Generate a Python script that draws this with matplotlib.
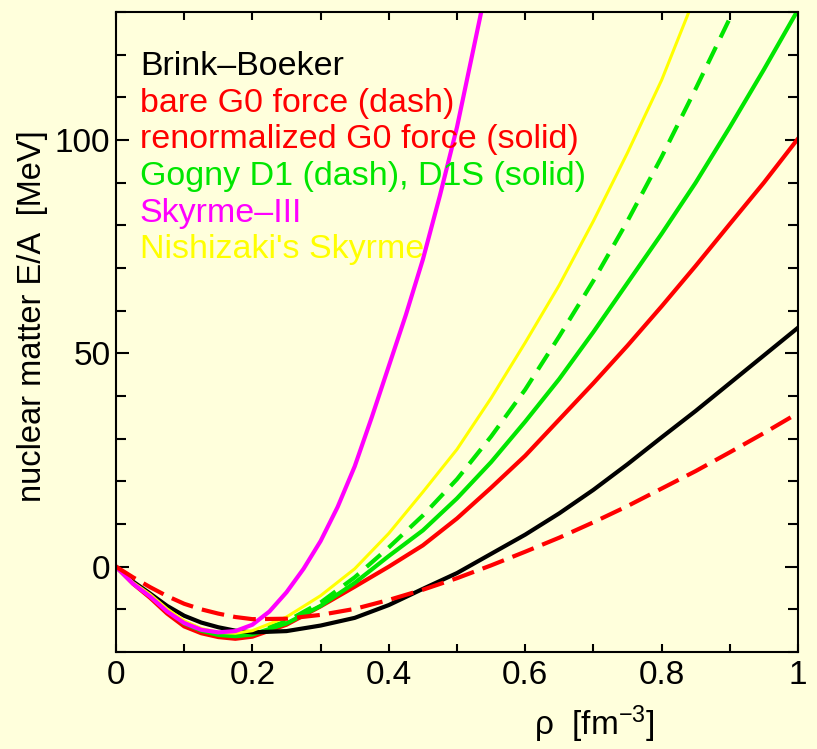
import numpy as np
import matplotlib
matplotlib.use('Agg')
import matplotlib.pyplot as plt
from matplotlib.ticker import MultipleLocator

plt.rcParams['font.family'] = ['Liberation Sans', 'DejaVu Sans']
plt.rcParams['mathtext.fontset'] = 'custom'
plt.rcParams['mathtext.rm'] = 'Liberation Sans'
plt.rcParams['mathtext.it'] = 'Liberation Sans:italic'

# density grid (fm^-3)
rho = [0, 0.025, 0.05, 0.075, 0.1, 0.125, 0.15, 0.175, 0.2, 0.25, 0.3, 0.35, 0.4,
       0.45, 0.5, 0.55, 0.6, 0.65, 0.7, 0.75, 0.8, 0.85, 0.9, 0.95, 1.0]

# E/A in MeV
brink_boeker = [0, -3.5, -6.3, -9.2, -11.5, -13.1, -14.2, -15.0, -15.4, -15.1, -13.8, -12.0, -9.0,
                -5.2, -1.5, 3.0, 7.5, 12.5, 18.0, 24.0, 30.3, 36.5, 43.0, 49.5, 56.0]
g0_bare = [0, -2.5, -4.8, -6.9, -8.7, -10.0, -11.0, -11.8, -12.3, -12.2, -11.3, -9.9, -7.8,
           -5.4, -2.7, 0.3, 3.5, 6.8, 10.4, 14.2, 18.3, 22.4, 26.8, 31.3, 36.0]
g0_renorm = [0, -4.0, -7.3, -11.0, -14.0, -15.6, -16.5, -16.9, -16.4, -13.6, -9.3, -4.7, 0.0,
             5.0, 11.3, 18.5, 26.0, 34.5, 43.0, 51.8, 61.0, 70.5, 80.3, 90.0, 100.3]
gogny_d1 = [0, -3.7, -6.7, -10.1, -13.0, -14.8, -15.8, -16.0, -15.5, -12.8, -8.4, -2.5, 4.5,
            12.0, 20.5, 30.5, 41.5, 54.0, 67.0, 81.0, 96.0, 112.0, 128.5, 145.0, 162.0]
gogny_d1s = [0, -3.8, -6.8, -10.3, -13.3, -15.0, -16.0, -16.3, -15.9, -13.3, -9.2, -3.8, 2.5,
             8.5, 16.0, 24.5, 34.0, 44.0, 55.0, 66.5, 78.0, 90.0, 103.0, 116.5, 130.5]
nishizaki = [0, -3.7, -6.5, -9.9, -12.7, -14.5, -15.4, -15.6, -15.0, -11.8, -6.8, -0.5, 7.8,
             17.5, 27.5, 39.5, 52.5, 66.0, 81.0, 97.0, 114.0, 134.0, 154.0, 175.0, 197.0]

rho_s3 = [0, 0.025, 0.05, 0.075, 0.1, 0.125, 0.15, 0.175, 0.2, 0.225, 0.25, 0.275, 0.3,
          0.325, 0.35, 0.375, 0.4, 0.425, 0.45, 0.475, 0.5, 0.525, 0.55]
skyrme3 = [0, -4.0, -7.0, -10.5, -13.2, -14.8, -15.4, -15.1, -13.6, -10.5, -6.0, -0.5, 6.0,
           14.0, 23.5, 35.0, 47.0, 59.0, 72.0, 87.0, 103.0, 122.0, 141.0]

labels = ['Brink\u2013Boeker', 'bare G0 force (dash)', 'renormalized G0 force (solid)',
          'Gogny D1 (dash), D1S (solid)', 'Skyrme\u2013III', "Nishizaki's Skyrme"]
label_colors = ['black', '#ff0000', '#ff0000', '#00e600', '#ff00ff', '#ffff00']

bg = '#ffffdc'
fig = plt.figure(figsize=(8.17, 7.49), dpi=100, facecolor=bg)
ax = fig.add_axes([0.142, 0.1295, 0.8347, 0.8545], facecolor=bg)

ax.plot(rho, g0_renorm, color='#ff0000', lw=3.0)
ax.plot(rho, gogny_d1s, color='#00e600', lw=3.0)
ax.plot(rho, gogny_d1, color='#00e600', lw=3.0, dashes=(4.5, 2.5))
ax.plot(rho, brink_boeker, color='black', lw=3.0)
ax.plot(rho, nishizaki, color='#ffff00', lw=2.2)
ax.plot(rho_s3, skyrme3, color='#ff00ff', lw=3.0)
ax.plot(rho, g0_bare, color='#ff0000', lw=3.0, dashes=(5.5, 2.2), dash_capstyle='butt')

ax.set_xlim(0, 1)
ax.set_ylim(-20, 130)
ax.xaxis.set_major_locator(MultipleLocator(0.2))
ax.xaxis.set_minor_locator(MultipleLocator(0.1))
ax.yaxis.set_major_locator(MultipleLocator(50))
ax.yaxis.set_minor_locator(MultipleLocator(10))
ax.set_xticks([0, 0.2, 0.4, 0.6, 0.8, 1.0])
ax.set_xticklabels(['0', '0.2', '0.4', '0.6', '0.8', '1'])
ax.set_yticks([0, 50, 100])
ax.set_yticklabels(['0', '50', '100'])

ax.tick_params(axis='both', which='both', direction='in', top=True, right=True,
               width=1.5, labelsize=24)
ax.tick_params(axis='x', which='both', length=5.8, pad=6)
ax.tick_params(axis='y', which='major', length=9.4, pad=4)
ax.tick_params(axis='y', which='minor', length=7.2)
for sp in ax.spines.values():
    sp.set_linewidth(1.5)

ax.set_xlabel('\u03c1  [fm$^{\u22123}$]', fontsize=24)
ax.xaxis.set_label_coords(0.702, -0.08)
ax.set_ylabel('nuclear matter E/A  [MeV]', fontsize=23.5)
ax.yaxis.set_label_coords(-0.1, 0.525)

for i, (txt, c) in enumerate(zip(labels, label_colors)):
    ax.text(0.035, 0.9016 - i * 0.0573, txt, color=c, fontsize=24.5,
            va='baseline', ha='left', transform=ax.transAxes)

fig.savefig('out.png', dpi=100, facecolor=bg)
